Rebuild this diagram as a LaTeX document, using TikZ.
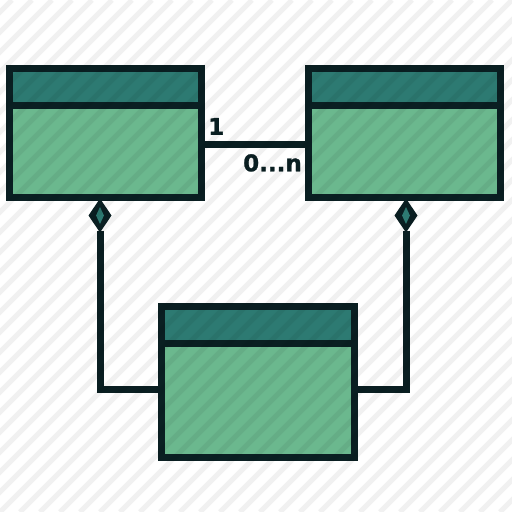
\documentclass[tikz,border=0pt]{standalone}
\usepackage{fontspec}
\newfontfamily\multfont{DejaVu Sans}[BoldFeatures={FakeBold=1.2}]
\usetikzlibrary{shapes.geometric}
\definecolor{edge}{HTML}{0A1F22}
\definecolor{head}{HTML}{2D7A72}
\definecolor{body}{HTML}{6BB88E}
\tikzset{
  classbox/.style={draw=edge,fill=body,line width=7pt,inner sep=0pt,outer sep=0pt,
    minimum width=192pt,minimum height=129pt},
  link/.style={draw=edge,line width=7pt},
  owner/.style={diamond,fill=edge,inner sep=0pt,outer sep=0pt,
    minimum width=23pt,minimum height=34pt},
  ownerin/.style={diamond,fill=head,inner sep=0pt,minimum width=8pt,minimum height=17pt},
  mult/.style={text=edge,font=\multfont\bfseries\fontsize{23}{23}\selectfont,inner sep=0pt},
  hatch/.style={black,opacity=0.055,line width=5pt}
}
\begin{document}
\begin{tikzpicture}[x=1pt,y=-1pt]
\useasboundingbox (0,0) rectangle (512,512);
\fill[white] (0,0) rectangle (512,512);
% classes
\node[classbox] (left) at (105.5,133) {};
\node[classbox] (right) at (404.5,133) {};
\node[classbox,minimum width=193pt,minimum height=151pt] (bottom) at (258,382) {};
\foreach \c in {left,right,bottom}
  \draw[draw=edge,fill=head,line width=7pt] (\c.north west) rectangle ([yshift=-37pt]\c.north east);
% association
\coordinate (assoc) at (0,144.5);
\draw[link] (assoc -| left.east) -- (assoc -| right.west);
\node[mult,anchor=south west] (one) at (208,135) {1};
\node[mult,anchor=north east] (many) at (302,154) {0...n};
% compositions
\node[owner,anchor=north] (ldia) at ([yshift=-1pt]left.south -| 100,0) {};
\node[owner,anchor=north] (rdia) at ([yshift=-1pt]right.south -| 406,0) {};
\node[ownerin] at (ldia.center) {};
\node[ownerin] at (rdia.center) {};
\coordinate (join) at (0,389);
\draw[link] ([yshift=2pt]ldia.south) |- (join -| bottom.west);
\draw[link] ([yshift=2pt]rdia.south) |- (join -| bottom.east);
% background stripes
\begin{scope}
\clip (0,0) rectangle (512,512);
\foreach \k in {-520,-500,...,520}
  \draw[hatch] (\k,512) -- (\k+512,0);
\end{scope}
\end{tikzpicture}
\end{document}
